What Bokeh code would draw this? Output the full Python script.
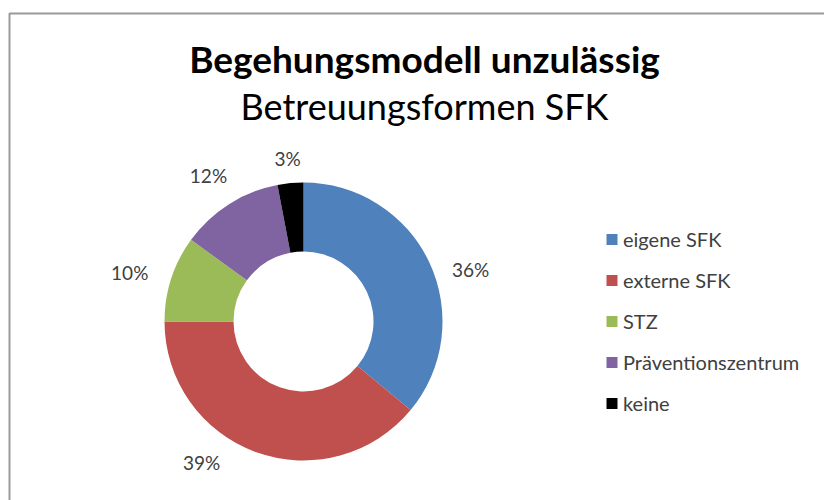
import math
from bokeh.plotting import figure
from bokeh.models import Range1d
from bokeh.core.properties import value
from bokeh.embed import file_html
from bokeh.resources import INLINE

title = "Begehungsmodell unzulässig"
subtitle = "Betreuungsformen SFK"
categories = ["eigene SFK", "externe SFK", "STZ", "Präventionszentrum", "keine"]
values = [36, 39, 10, 12, 3]
colors = ["#4F81BD", "#C0504D", "#9BBB59", "#8064A2", "#000000"]

W, H = 824, 500
p = figure(width=W, height=H, output_backend="svg", toolbar_location=None,
           x_range=Range1d(0, W), y_range=Range1d(0, H), min_border=0)
p.axis.visible = False
p.grid.visible = False
p.outline_line_color = None
p.background_fill_color = "white"
p.border_fill_color = "white"

# chart frame (top and left edges visible)
p.line(x=[9, 9, 830], y=[-10, H - 13, H - 13], line_color="#9a9a9a", line_width=2)

cx, cy = 303, H - 321
R_out, R_in = 139, 70
total = sum(values)
starts, ends, mids = [], [], []
cum = 0
for v in values:
    a0 = math.pi / 2 - 2 * math.pi * cum / total
    cum += v
    a1 = math.pi / 2 - 2 * math.pi * cum / total
    starts.append(a0)
    ends.append(a1)
    mids.append((a0 + a1) / 2)

p.annular_wedge(x=cx, y=cy, inner_radius=R_in, outer_radius=R_out,
                start_angle=starts, end_angle=ends, direction="clock",
                fill_color=colors, line_color=None)

# data labels
label_r = 168
label_dx = [15, -45, -14, -5, 0]
label_dy = [20, -17, 3, -4, 4]
lx = [cx + label_r * math.cos(m) + dx for m, dx in zip(mids, label_dx)]
ly = [cy + label_r * math.sin(m) - dy for m, dy in zip(mids, label_dy)]
labels = [f"{v * 100 // total}%" for v in values]
p.text(x=lx, y=ly, text=labels, text_align="center", text_baseline="middle",
       text_font=value("Lato"), text_font_size="19px", text_color="#404040")

# titles
p.text(x=[424], y=[H - 58], text=[title], text_align="center",
       text_baseline="middle", text_font=value("Lato"),
       text_font_size="37px", text_font_style="bold", text_color="#000000")
p.text(x=[424], y=[H - 105], text=[subtitle], text_align="center",
       text_baseline="middle", text_font=value("Lato"),
       text_font_size="36px", text_color="#000000")

# legend
leg_x = 611.5
leg_y = [H - (239 + 41 * i) for i in range(len(categories))]
p.rect(x=[leg_x] * len(categories), y=leg_y, width=11, height=11,
       fill_color=colors, line_color=None)
p.text(x=[leg_x + 11] * len(categories), y=[y + 1 for y in leg_y], text=categories,
       text_align="left", text_baseline="middle", text_font=value("Lato"),
       text_font_size="20px", text_color="#404040")

open("out.html", "w").write(file_html(p, INLINE))
